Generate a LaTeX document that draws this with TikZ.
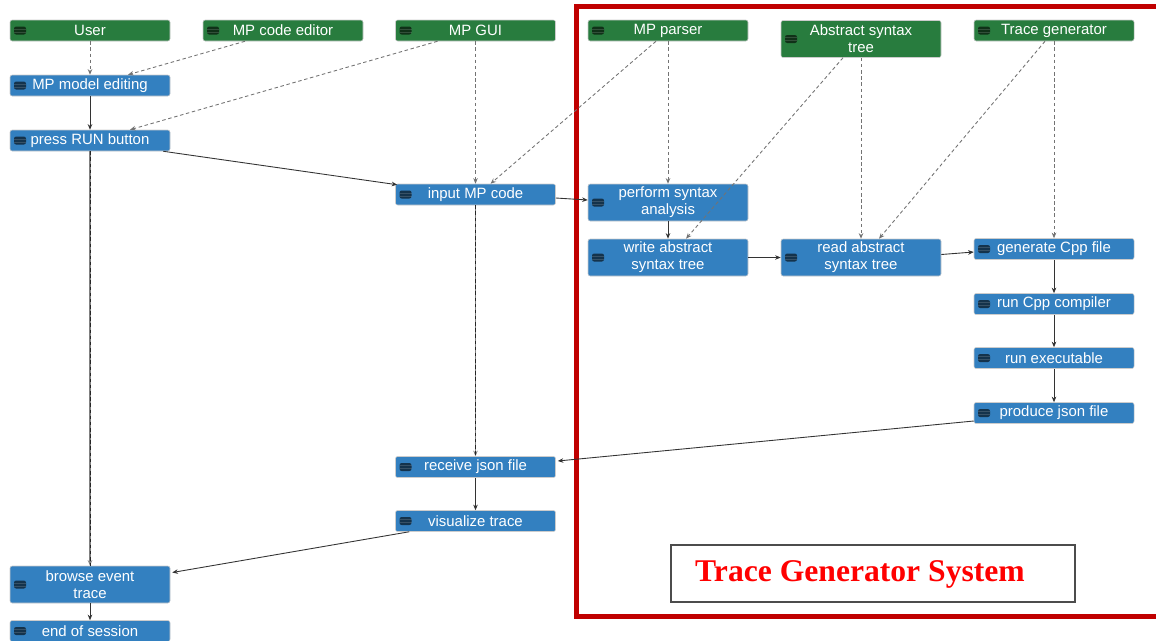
\documentclass[tikz,border=0pt]{standalone}
\usepackage{fontspec}
\setmainfont{Liberation Sans}
\newfontfamily\titlefont{Liberation Serif}
\usetikzlibrary{calc,arrows.meta}
\definecolor{nodegreen}{RGB}{40,124,62}
\definecolor{nodeblue}{RGB}{51,128,192}
\definecolor{framered}{RGB}{192,0,0}
\definecolor{titlered}{RGB}{255,0,0}
\tikzset{
  base/.style={rectangle, rounded corners=1.2pt, minimum width=160*0.02cm, minimum height=21*0.02cm,
    inner sep=0pt, text=white, align=center, draw=white!80!black, line width=0.3pt,
    font=\fontsize{8.5}{9.6}\selectfont,
    path picture={
      \fill[black, opacity=0.6] ($(path picture bounding box.west)+(4,-4)$) rectangle +(12,8);
      \draw[white, opacity=0.15, line width=0.3pt] ($(path picture bounding box.west)+(4,-1.3)$) -- +(12,0);
      \draw[white, opacity=0.15, line width=0.3pt] ($(path picture bounding box.west)+(4,1.3)$) -- +(12,0);
    }},
  actor/.style={base, fill=nodegreen},
  stepbox/.style={base, fill=nodeblue},
  tall/.style={minimum height=37*0.02cm},
  flow/.style={draw=black!80, line width=0.5pt, -{Stealth[length=3.2pt,width=2.6pt]}},
  life/.style={draw=black!55, line width=0.5pt, dash pattern=on 2pt off 1.5pt, -{Stealth[length=3.2pt,width=2.6pt]}},
  lifeflow/.style={draw=black!50, line width=0.6pt, -{Stealth[length=3.2pt,width=2.6pt]}},
  lifeover/.style={draw=black!85, line width=0.5pt, dash pattern=on 2pt off 1.5pt},
}
\begin{document}
\begin{tikzpicture}[x=0.02cm, y=-0.02cm]
\useasboundingbox (0,0) rectangle (1156,640);
\clip (0,0) rectangle (1156,640);

% red frame
\draw[framered, line width=5*0.02cm] (576.5,6.5) rectangle (1170,616.5);

% actors
\node[actor] (user)   at (90,30.5)  {User};
\node[actor] (mce)    at (283,30.5) {MP code editor};
\node[actor] (gui)    at (475.5,30.5) {MP GUI};
\node[actor] (parser) at (668,30.5) {MP parser};
\node[actor, tall] (ast) at (861,39) {Abstract syntax\\tree};
\node[actor] (tg)     at (1054,30.5) {Trace generator};

% steps
\node[stepbox] (edit) at (90,85.5) {MP model editing};
\node[stepbox] (run)  at (90,140.5) {press RUN button};
\node[stepbox] (input) at (475.5,194.5) {input MP code};
\node[stepbox, tall] (perform) at (668,202.5) {perform syntax\\analysis};
\node[stepbox, tall] (write) at (668,257.5) {write abstract\\syntax tree};
\node[stepbox, tall] (read) at (861,257.5) {read abstract\\syntax tree};
\node[stepbox] (gen)  at (1054,249) {generate Cpp file};
\node[stepbox] (comp) at (1054,304) {run Cpp compiler};
\node[stepbox] (exec) at (1054,358) {run executable};
\node[stepbox] (prod) at (1054,413) {produce json file};
\node[stepbox] (recv) at (475.5,467) {receive json file};
\node[stepbox] (vis)  at (475.5,521) {visualize trace};
\node[stepbox, tall] (browse) at (90,584.5) {browse event\\trace};
\node[stepbox] (eos)  at (90,631) {end of session};

% label box
\node[draw=black!70, line width=0.6pt, minimum width=404*0.02cm, minimum height=57*0.02cm, inner sep=0pt] (lblbox) at (873,573.5) {};
\node[text=titlered, font=\titlefont\bfseries\fontsize{18}{20}\selectfont, inner sep=0pt] (lbl) at (860,574) {Trace Generator System};

% dashed lifeline links
\draw[life] (user.south) -- (edit.north);
\draw[life] ($(mce.south)+(-38,0)$) -- ($(edit.north)+(38,0)$);
\draw[life] ($(gui.south)+(-38,0)$) -- ($(run.north)+(40,0)$);
\draw[life] (gui.south) -- (input.north);
\draw[life] ($(parser.south)+(-12,0)$) -- ($(input.north)+(15,0)$);
\draw[life] (parser.south) -- (perform.north);
\draw[life] ($(ast.south)+(-18,0)$) -- ($(write.north)+(18,0)$);
\draw[life] (ast.south) -- (read.north);
\draw[life] ($(tg.south)+(-9,0)$) -- ($(read.north)+(18,0)$);
\draw[life] (tg.south) -- (gen.north);

% combined long links
\draw[lifeflow] (run.south) -- (browse.north);
\draw[lifeover] (run.south) -- (browse.north);
\draw[lifeflow] (input.south) -- (recv.north);
\draw[lifeover] (input.south) -- (recv.north);

% flow
\draw[flow] (edit.south) -- (run.north);
\draw[flow] ($(run.south east)+(-7,0)$) -- ($(input.north west)+(2,1)$);
\draw[flow] ($(input.east)+(0,3.5)$) -- ($(perform.west)+(0,-2.5)$);
\draw[flow] (perform.south) -- (write.north);
\draw[flow] (write.east) -- (read.west);
\draw[flow] ($(read.east)+(0,-3)$) -- ($(gen.west)+(0,3)$);
\draw[flow] (gen.south) -- (comp.north);
\draw[flow] (comp.south) -- (exec.north);
\draw[flow] (exec.south) -- (prod.north);
\draw[flow] ($(prod.west)+(0,8)$) -- ($(recv.east)+(2,-6)$);
\draw[flow] (recv.south) -- (vis.north);
\draw[flow] ($(vis.south west)+(14,0)$) -- ($(browse.east)+(2,-12)$);
\draw[flow] (browse.south) -- (eos.north);
\end{tikzpicture}
\end{document}
